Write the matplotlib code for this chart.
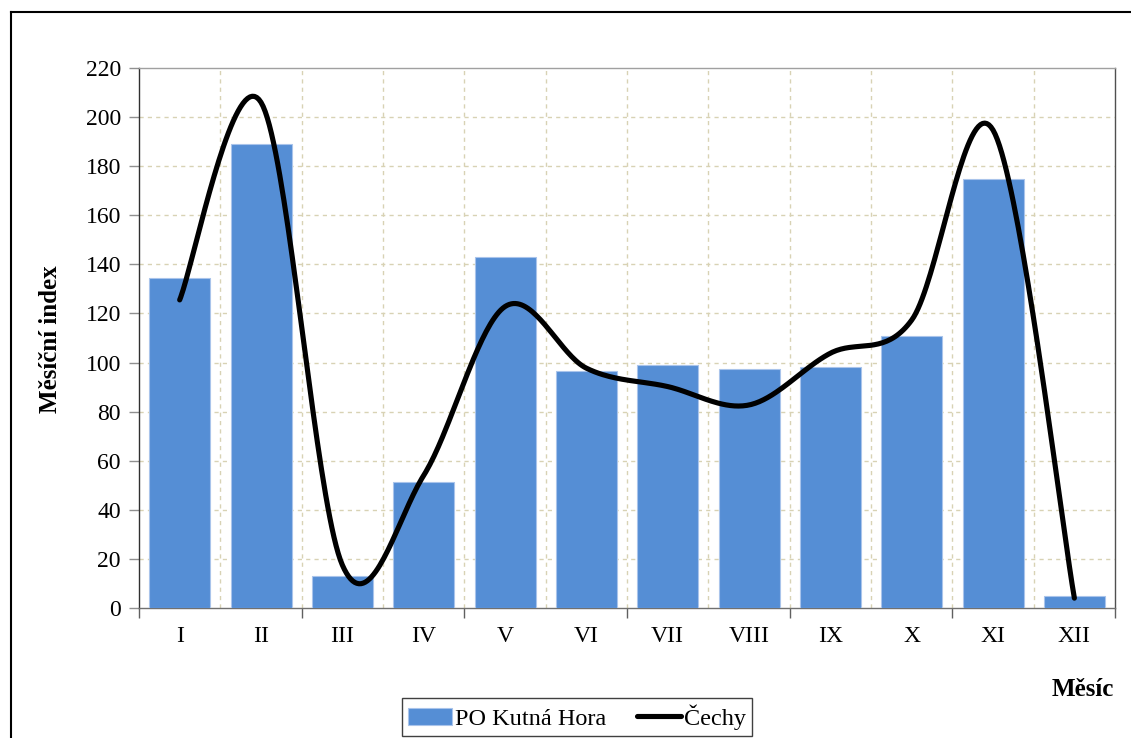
import numpy as np
import matplotlib.pyplot as plt
from matplotlib.lines import Line2D

plt.rcParams['font.family'] = ['Liberation Serif', 'DejaVu Serif']

months = ['I', 'II', 'III', 'IV', 'V', 'VI', 'VII', 'VIII', 'IX', 'X', 'XI', 'XII']
kutna_hora = [134.3, 188.9, 13.2, 51.5, 143.1, 96.7, 99.0, 97.4, 98.1, 111.0, 174.6, 5.0]
cechy = [125.5, 206.0, 17.5, 54.0, 122.8, 97.7, 90.2, 82.7, 103.8, 117.3, 194.7, 4.0]

bar_color = '#558ED5'
grid_color = '#D8D2B4'


def smooth(xs, ys, n=40):
    # Excel-like smoothed line: Bezier segments, Catmull-Rom control points
    pts = np.column_stack([xs, ys]).astype(float)
    out = []
    for i in range(len(pts) - 1):
        p0 = pts[max(i - 1, 0)]
        p1 = pts[i]
        p2 = pts[i + 1]
        p3 = pts[min(i + 2, len(pts) - 1)]
        c1 = p1 + (p2 - p0) / 6
        c2 = p2 - (p3 - p1) / 6
        t = np.linspace(0, 1, n)[:, None]
        seg = ((1 - t) ** 3) * p1 + 3 * ((1 - t) ** 2) * t * c1 + 3 * (1 - t) * t ** 2 * c2 + t ** 3 * p2
        out.append(seg if i == 0 else seg[1:])
    out = np.vstack(out)
    return out[:, 0], out[:, 1]


fig = plt.figure(figsize=(11.31, 7.38), dpi=100)
ax = fig.add_axes([0.1229, 0.1762, 0.8630, 0.7317])

x = np.arange(len(months))
bars = ax.bar(x, kutna_hora, width=0.75, color=bar_color, edgecolor='#A9C4EB', linewidth=0.8,
              label='PO Kutná Hora', zorder=3)
sx, sy = smooth(x, cechy)
line, = ax.plot(sx, sy, color='black', linewidth=3.7, solid_capstyle='round',
                label='Čechy', zorder=4)

ax.set_xlim(-0.5, len(months) - 0.5)
ax.set_ylim(0, 220)
ax.set_yticks(np.arange(0, 221, 20))
ax.set_xticks(x)
ax.set_xticklabels(months)

# gridlines
for v in np.arange(20, 220, 20):
    ax.axhline(v, color=grid_color, linestyle=(0, (3, 3)), linewidth=1, zorder=1)
for b in np.arange(0.5, len(months) - 1, 1):
    ax.axvline(b, color=grid_color, linestyle=(0, (3, 3)), linewidth=1, zorder=1)

ax.set_xticks(np.arange(-0.5, len(months), 2), minor=True)
ax.tick_params(axis='x', which='major', length=0, pad=13, labelsize=17)
ax.tick_params(axis='x', which='minor', length=7, color='#606060', width=1)
ax.tick_params(axis='y', length=7, color='#909090', width=1, labelsize=17, pad=6)

ax.spines['top'].set_color('#A0A0A0')
ax.spines['right'].set_color('#505050')
ax.spines['left'].set_color('#303030')
ax.spines['bottom'].set_color('#707070')
for s in ax.spines.values():
    s.set_linewidth(1)

fig.text(0.045, 0.541, 'Měsíční index', rotation=90, ha='center', va='center',
         fontsize=18, fontweight='bold')
fig.text(0.9575, 0.066, 'Měsíc', ha='center', va='center', fontsize=18, fontweight='bold')

leg = fig.legend([bars, line], ['PO Kutná Hora', 'Čechy'], loc='center',
                 bbox_to_anchor=(0.5102, 0.0285), ncol=2, fontsize=17.5,
                 frameon=True, fancybox=False, edgecolor='#404040', framealpha=1,
                 handlelength=1.8, handletextpad=0.1, columnspacing=1.3,
                 borderpad=0.25)
leg.get_frame().set_linewidth(1)

# outer chart frame (left and top edges visible)
fig.add_artist(Line2D([0.0097, 0.0097], [0.0, 0.9837], color='black', linewidth=1.5,
                      transform=fig.transFigure))
fig.add_artist(Line2D([0.0097, 1.0], [0.9837, 0.9837], color='black', linewidth=1.5,
                      transform=fig.transFigure))

fig.savefig('out.png', dpi=100)
